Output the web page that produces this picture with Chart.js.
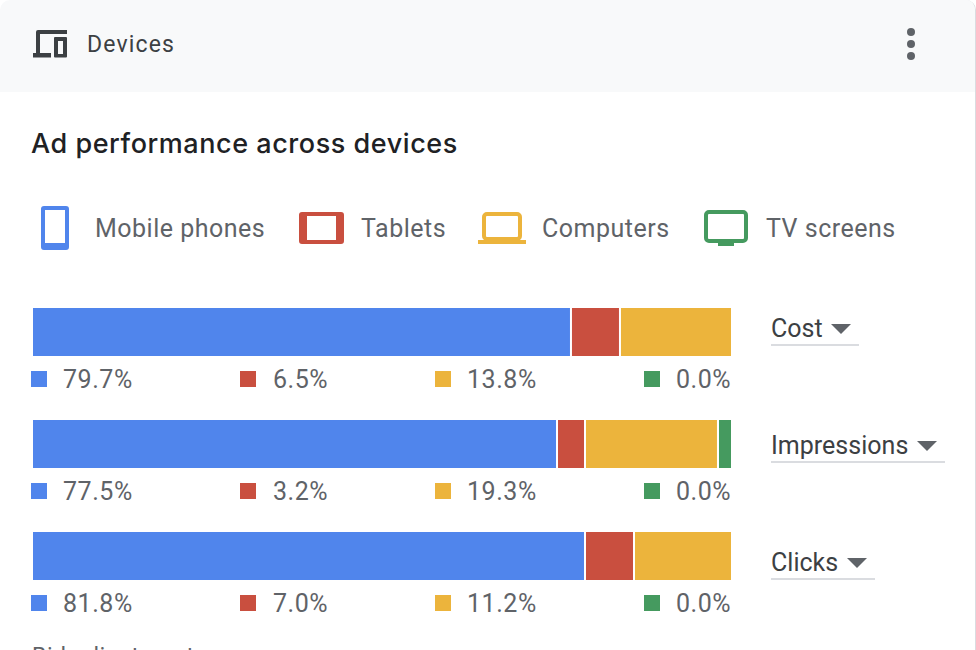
<!DOCTYPE html>
<html><head><meta charset="utf-8">
<script src="https://cdn.jsdelivr.net/npm/chart.js@4"></script>
<style>
html,body{margin:0;padding:0;background:#fff;width:976px;height:650px;overflow:hidden}
body{font-family:Roboto,sans-serif;position:relative}
#card{position:absolute;left:0;top:0;width:975px;height:700px;border-right:1px solid #dadce0;border-radius:10px 10px 0 0;overflow:hidden;background:#fff}
#head{position:absolute;left:0;top:0;width:100%;height:92px;background:#f8f9fa}
.t{position:absolute;white-space:nowrap;line-height:1}
svg{position:absolute;overflow:visible}
#chart{position:absolute;left:33px;top:276px}
.sq{position:absolute;width:16px;height:16px}
.ul{position:absolute;height:2px;background:#dadce0;left:771px}
.tri{position:absolute;width:0;height:0;border-left:10px solid transparent;border-right:10px solid transparent;border-top:10px solid #5f6368}
</style></head><body>
<div id="card"><div id="head"></div>
<svg style="left:33px;top:30px" width="34" height="28" viewBox="0 0 34 28"><path d="M5 0H34V4H7V23H18V27.5H0V23H3V2Q3 0 5 0Z" fill="#3c4043"/><path fill-rule="evenodd" d="M22 7H33a1 1 0 0 1 1 1V26.5a1 1 0 0 1-1 1H22a1 1 0 0 1-1-1V8a1 1 0 0 1 1-1ZM25 11V24H30V11Z" fill="#3c4043"/></svg>
<div class="t" style="left:87px;top:33px;font-size:23px;letter-spacing:1.15px;color:#3c4043">Devices</div>
<svg style="left:905px;top:27px" width="12" height="34"><circle cx="6" cy="5" r="4" fill="#5f6368"/><circle cx="6" cy="17" r="4" fill="#5f6368"/><circle cx="6" cy="29" r="4" fill="#5f6368"/></svg>
<div class="t" style="left:31px;top:130px;font-family:Inter,sans-serif;font-weight:500;font-size:27px;letter-spacing:.55px;color:#202124">Ad performance across devices</div>
<svg style="left:41px;top:206px" width="28" height="44"><path fill-rule="evenodd" d="M3 0H25a3 3 0 0 1 3 3V41a3 3 0 0 1-3 3H3a3 3 0 0 1-3-3V3a3 3 0 0 1 3-3ZM4 4V37H24V4Z" fill="#5085ec"/></svg>
<svg style="left:299px;top:212px" width="45" height="32"><path fill-rule="evenodd" d="M3 0H42a3 3 0 0 1 3 3V29a3 3 0 0 1-3 3H3a3 3 0 0 1-3-3V3a3 3 0 0 1 3-3ZM8 4V28H37V4Z" fill="#c94f3f"/></svg>
<svg style="left:478px;top:212px" width="48" height="32"><rect x="6" y="2" width="36" height="25" rx="3" fill="none" stroke="#ecb43c" stroke-width="4"/><rect x="0" y="28" width="48" height="4" fill="#ecb43c"/></svg>
<svg style="left:704px;top:210px" width="44" height="36"><rect x="2" y="2" width="40" height="29" rx="3" fill="none" stroke="#459a5f" stroke-width="4"/><rect x="14" y="32" width="16" height="4" fill="#459a5f"/></svg>
<div id="legend"></div><div id="rows"></div>
<div class="t" style="left:32px;top:645px;font-size:23px;letter-spacing:.6px;color:#5f6368">Bid adjustment</div>
</div>
<canvas id="chart" width="698" height="336"></canvas>
<script>
const metrics = ["Cost", "Impressions", "Clicks"];
const devices = ["Mobile phones", "Tablets", "Computers", "TV screens"];
const colors = ["#5085ec", "#c94f3f", "#ecb43c", "#459a5f"];
// Bar segment lengths as drawn in the picture (share of the full bar)
const mobileBar = [76.93, 74.93, 78.94];
const tabletBar = [7.02, 4.01, 7.02];
const computerBar = [16.05, 19.05, 14.04];
const tvBar = [0, 2.01, 0];
// Percentages printed under each bar
const mobileLabels = ["79.7%", "77.5%", "81.8%"];
const tabletLabels = ["6.5%", "3.2%", "7.0%"];
const computerLabels = ["13.8%", "19.3%", "11.2%"];
const tvLabels = ["0.0%", "0.0%", "0.0%"];

const card = document.getElementById('card');
function text(s,x,y,size,color,ls){const d=document.createElement('div');d.className='t';d.textContent=s;d.style.cssText=`left:${x}px;top:${y}px;font-size:${size}px;color:${color};letter-spacing:${ls}px`;card.appendChild(d);return d;}
[[95,216],[361,216],[542,216],[766,216]].forEach((p,i)=>text(devices[i],p[0],p[1],25,'#5f6368',.5));
const sqX=[31,240,435,644], txtX=[63,273,467,676];
[mobileLabels,tabletLabels,computerLabels,tvLabels].forEach((arr,i)=>arr.forEach((l,r)=>{
  const s=document.createElement('div');s.className='sq';s.style.cssText=`left:${sqX[i]}px;top:${371+112*r}px;background:${colors[i]}`;card.appendChild(s);
  text(l,txtX[i],367+112*r,25,'#5f6368',.55);
}));
const ddY=[316,433,550], ulW=[88,174,104], triX=[831,917,847];
metrics.forEach((m,i)=>{
  text(m,771,ddY[i],25,'#3c4043',.02);
  const t=document.createElement('div');t.className='tri';t.style.left=triX[i]+'px';t.style.top=(ddY[i]+8)+'px';card.appendChild(t);
  const u=document.createElement('div');u.className='ul';u.style.top=(ddY[i]+28)+'px';u.style.width=ulW[i]+'px';card.appendChild(u);
});
const series=[mobileBar,tabletBar,computerBar,tvBar];
new Chart(document.getElementById('chart'),{
  type:'bar',
  data:{labels:metrics,datasets:series.map((d,i)=>({label:devices[i],data:d,backgroundColor:colors[i],borderColor:'#ffffff',
    borderWidth:i===0?0:{left:2,right:0,top:0,bottom:0},borderSkipped:false,inflateAmount:0,barThickness:48}))},
  options:{indexAxis:'y',responsive:false,animation:false,
    layout:{padding:0},
    plugins:{legend:{display:false},title:{display:false},tooltip:{enabled:false}},
    scales:{x:{stacked:true,min:0,max:100,display:false},y:{stacked:true,display:false}}}
});
</script>
</body></html>
